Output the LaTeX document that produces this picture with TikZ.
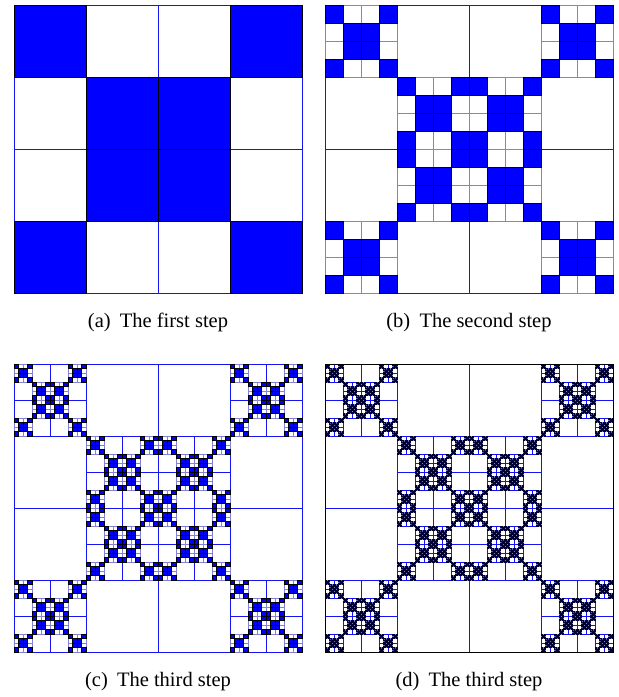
\documentclass[tikz,border=0pt]{standalone}
\usepackage{fontspec}
\setmainfont{Liberation Serif}
\definecolor{fillblue}{RGB}{0,0,255}
\definecolor{lineblue}{RGB}{20,20,240}
\definecolor{lavender}{RGB}{130,130,215}
\definecolor{navy}{RGB}{0,0,50}
\newcommand\myblock[1]{%
  \ifnum#1=1
    \draw[leafgrid] (0,0) rectangle (4,4) (1,0)--(1,4) (2,0)--(2,4) (3,0)--(3,4) (0,1)--(4,1) (0,2)--(4,2) (0,3)--(4,3);
    \filldraw[cell] (0,0) rectangle (1,1) (3,0) rectangle (4,1) (0,3) rectangle (1,4) (3,3) rectangle (4,4) (1,1) rectangle (3,3);
    \draw[cell] (2,1)--(2,3) (1,2)--(3,2);
  \else
    \draw[whiteline] (1,0) rectangle (2,1) (2,0) rectangle (3,1) (0,1) rectangle (1,2) (0,2) rectangle (1,3) (3,1) rectangle (4,2) (3,2) rectangle (4,3) (1,3) rectangle (2,4) (2,3) rectangle (3,4);
    \foreach \i/\j in {0/0,0/3,3/0,3/3,1/1,1/2,2/1,2/2}{%
      \begin{scope}[shift={(\j,\i)},scale=0.25]
        \myblock{\the\numexpr#1-1\relax}
      \end{scope}}%
  \fi}
\tikzset{
  captext/.style={font=\fontsize{20.5}{24}\selectfont, inner sep=0pt, anchor=base},
  cell/.style={fill=fillblue, draw=black},
  whiteline/.style={draw=lineblue},
  leafgrid/.style={draw=lavender}
}
\begin{document}
\begin{tikzpicture}
\useasboundingbox (0,0) rectangle (619pt,-697pt);
% (a)
\begin{scope}[shift={(14pt,-5pt)}, x=72pt, y=-72pt,
  cell/.append style={line width=0.8pt},
  leafgrid/.style={draw=lineblue, line width=0.8pt}]
  \myblock{1}
\end{scope}
% (b)
\begin{scope}[shift={(325pt,-5pt)}, x=72pt, y=-72pt,
  cell/.append style={line width=0.7pt},
  whiteline/.append style={line width=0.8pt},
  leafgrid/.append style={line width=1pt}]
  \myblock{2}
\end{scope}
% (c)
\begin{scope}[shift={(14pt,-364pt)}, x=72pt, y=-72pt,
  cell/.append style={line width=0.4pt},
  whiteline/.append style={line width=0.7pt},
  leafgrid/.append style={line width=0.5pt}]
  \myblock{3}
\end{scope}
% (d)
\begin{scope}[shift={(325pt,-364pt)}, x=72pt, y=-72pt,
  cell/.append style={draw=navy, line width=0.16pt},
  whiteline/.append style={line width=0.6pt},
  leafgrid/.append style={line width=0.15pt}]
  \myblock{4}
  \draw[black, line width=0.8pt] (0,0) rectangle (4,4);
\end{scope}
\node[captext] (capa) at (158pt,-327pt) {(a)\hspace{0.45em}The first step};
\node[captext] (capb) at (469pt,-327pt) {(b)\hspace{0.45em}The second step};
\node[captext] (capc) at (158pt,-686pt) {(c)\hspace{0.45em}The third step};
\node[captext] (capd) at (469pt,-686pt) {(d)\hspace{0.45em}The third step};
\end{tikzpicture}
\end{document}
